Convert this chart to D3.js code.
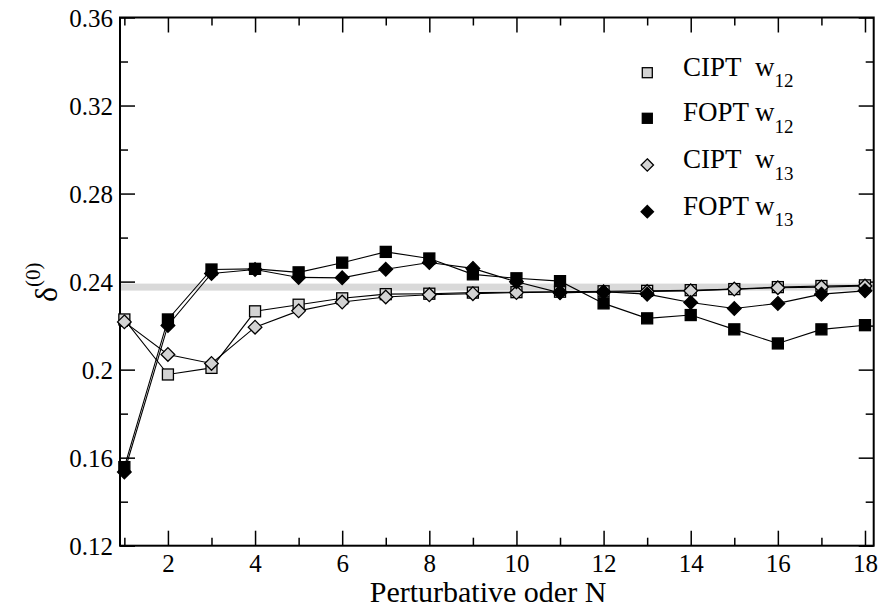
<!DOCTYPE html>
<html><head><meta charset="utf-8">
<script src="https://cdn.jsdelivr.net/npm/d3@7"></script>
<style>
body{margin:0;background:#fff;}
svg text{font-family:"Liberation Serif","Times New Roman",serif;fill:#000;}
</style></head>
<body><svg id="c" width="894" height="608"></svg>
<script>
const orders = [1,2,3,4,5,6,7,8,9,10,11,12,13,14,15,16,17,18];
const ciptW12 = [0.2228,0.1978,0.2008,0.2265,0.2295,0.2324,0.2343,0.2345,0.2350,0.2352,0.2354,0.2356,0.2358,0.2361,0.2366,0.2375,0.2380,0.2383];
const foptW12 = [0.1557,0.2228,0.2455,0.2458,0.2442,0.2486,0.2535,0.2505,0.2433,0.2415,0.2402,0.2301,0.2233,0.2248,0.2183,0.2119,0.2183,0.2202];
const ciptW13 = [0.2217,0.2069,0.2028,0.2193,0.2267,0.2307,0.2330,0.2340,0.2345,0.2350,0.2353,0.2352,0.2355,0.2358,0.2366,0.2372,0.2375,0.2380];
const foptW13 = [0.1535,0.2201,0.2437,0.2455,0.2419,0.2417,0.2456,0.2487,0.2460,0.2399,0.2349,0.2354,0.2343,0.2305,0.2278,0.2301,0.2343,0.2358];
const bandValue = 0.2375;
const xMajorTicks = [2,4,6,8,10,12,14,16,18];
const xMinorTicks = [1,3,5,7,9,11,13,15,17];
const yMajorTicks = [0.12,0.16,0.20,0.24,0.28,0.32,0.36];
const yMajorLabels = ["0.12","0.16","0.2","0.24","0.28","0.32","0.36"];
const yMinorTicks = [0.14,0.18,0.22,0.26,0.30,0.34];

const series = [
  {name:"CIPT", sub:"12", vals:ciptW12, shape:"square", fill:"#d3d3d3"},
  {name:"FOPT", sub:"12", vals:foptW12, shape:"square", fill:"#000"},
  {name:"CIPT", sub:"13", vals:ciptW13, shape:"diamond", fill:"#d3d3d3"},
  {name:"FOPT", sub:"13", vals:foptW13, shape:"diamond", fill:"#000"}
];

const SERIF = "'Liberation Serif','Times New Roman',serif";
const L=120, R=873.7, T=17.5, B=545.7;
const x = d3.scaleLinear().domain([0.9,18.2]).range([L,R]);
const y = d3.scaleLinear().domain([0.12,0.36]).range([B,T]);
const svg = d3.select("#c");

svg.append("rect").attr("x",L).attr("width",R-L)
  .attr("y",y(bandValue)-3.5).attr("height",7).attr("fill","#d9d9d9");

function axis(gen, tr, size, vals, fmt){
  const g = svg.append("g").attr("transform",tr)
    .call(gen.tickValues(vals).tickSize(size).tickFormat(fmt));
  g.attr("font-family",SERIF).attr("font-size",25);
  g.select(".domain").remove();
  g.selectAll("line").attr("stroke","#000").attr("stroke-width",1.5);
  g.selectAll("text").attr("fill","#000").style("font-family",SERIF).style("font-size","25px");
  return g;
}
axis(d3.axisBottom(x), `translate(0,${B})`, -15, xMajorTicks, d=>d).selectAll("text").attr("dy","0").attr("y",26);
axis(d3.axisBottom(x), `translate(0,${B})`, -8, xMinorTicks, "");
axis(d3.axisTop(x), `translate(0,${T})`, -15, xMajorTicks, "");
axis(d3.axisTop(x), `translate(0,${T})`, -8, xMinorTicks, "");
axis(d3.axisLeft(y), `translate(${L},0)`, -15, yMajorTicks, (d,i)=>yMajorLabels[i]).selectAll("text").attr("x",-7).attr("dy","0.34em");
axis(d3.axisLeft(y), `translate(${L},0)`, -8, yMinorTicks, "");
axis(d3.axisRight(y), `translate(${R},0)`, -15, yMajorTicks, "");
axis(d3.axisRight(y), `translate(${R},0)`, -8, yMinorTicks, "");

svg.append("rect").attr("x",L).attr("y",T).attr("width",R-L).attr("height",B-T)
  .attr("fill","none").attr("stroke","#000").attr("stroke-width",2);

const line = d3.line().x((d,i)=>x(orders[i])).y(d=>y(d));
function marker(sel, shape, fill, s){
  if(shape==="square"){
    sel.append("rect").attr("x",-s/2).attr("y",-s/2).attr("width",s).attr("height",s)
      .attr("fill",fill).attr("stroke","#000").attr("stroke-width",1.3);
  } else {
    const h=s*0.62;
    sel.append("path").attr("d",`M0,${-h}L${h},0L0,${h}L${-h},0Z`)
      .attr("fill",fill).attr("stroke","#000").attr("stroke-width",1.3);
  }
}
series.forEach(s=>{
  svg.append("path").datum(s.vals).attr("d",line).attr("fill","none")
    .attr("stroke","#000").attr("stroke-width",1.1);
});
series.forEach(s=>{
  s.vals.forEach((v,i)=>{
    const g = svg.append("g").attr("transform",`translate(${x(orders[i])},${y(v)})`);
    marker(g, s.shape, s.fill, 11);
  });
});

const legY = [72.7,118.3,165,211.7];
series.forEach((s,i)=>{
  const g = svg.append("g").attr("transform",`translate(647.3,${legY[i]})`);
  marker(g, s.shape, s.fill, 10);
  const t = svg.append("text").attr("x",683).attr("y",legY[i]+3).style("font-size","27px");
  t.append("tspan").text(s.name);
  t.append("tspan").attr("x",755).text("w");
  t.append("tspan").attr("dy",11.5).style("font-size","19px").text(s.sub);
});

svg.append("text").attr("x",488).attr("y",602).attr("text-anchor","middle")
  .style("font-size","30px").text("Perturbative oder N");
const yl = svg.append("text").attr("transform","translate(57,302) rotate(-90)").style("font-size","32px");
yl.append("tspan").text("δ");
yl.append("tspan").attr("dy",-17).style("font-size","21px").text("(0)");
</script></body></html>
